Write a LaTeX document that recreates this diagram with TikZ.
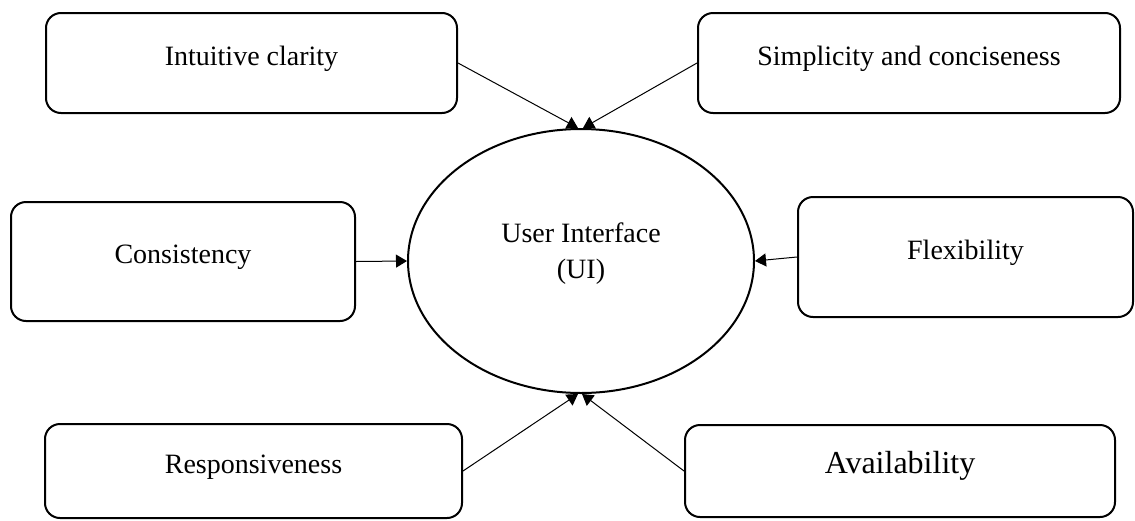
\documentclass[tikz,border=0pt]{standalone}
\usepackage{fontspec}
\setmainfont{Liberation Serif}
\usepackage{tikz}
\usetikzlibrary{shapes,arrows.meta}

\begin{document}
\begin{tikzpicture}[x=0.5pt, y=-0.5pt,
	textbox/.style={font=\fontsize{14}{17}\selectfont, draw, line width=1pt, rounded corners=7.5pt, inner sep=0, align=center, text height=9.8pt, text depth=7.7pt},
	uibox/.style={ellipse, font=\fontsize{14}{18}\selectfont, draw, line width=1pt, inner sep=0, align=center, minimum width=173pt, minimum height=132pt, text depth=10.5pt},
	arr/.style={-{Triangle[length=5.5pt,width=6.5pt]}, line width=0.5pt}
]
\useasboundingbox (0,0) rectangle (1135,520);

\node[uibox] (ui) at (581,261) {User Interface\\(UI)};

\node[textbox, minimum width=205.5pt, minimum height=50pt] (intuit) at (251.5,63) {Intuitive clarity};
\node[textbox, minimum width=211pt, minimum height=50pt] (simple) at (909,63) {Simplicity and conciseness};
\node[textbox, minimum width=172pt, minimum height=59.5pt] (consist) at (183,261.5) {Consistency};
\node[textbox, minimum width=167.5pt, minimum height=60pt] (flex) at (965.5,257) {Flexibility};
\node[textbox, minimum width=208.5pt, minimum height=47pt] (respons) at (253.5,471) {Responsiveness};
\node[textbox, font=\fontsize{16}{19}\selectfont, minimum width=215pt, minimum height=46pt] (avail) at (900,471) {Availability};

\draw[arr] (intuit.east) -- ([xshift=-1.5pt]ui.north);
\draw[arr] (simple.west) -- ([xshift=1pt]ui.north);
\draw[arr] (consist.east) -- (ui.west);
\draw[arr] (flex.west) -- (ui.east);
\draw[arr] (respons.east) -- ([xshift=-1.5pt]ui.south);
\draw[arr] (avail.west) -- ([xshift=0.5pt]ui.south);
\end{tikzpicture}
\end{document}
